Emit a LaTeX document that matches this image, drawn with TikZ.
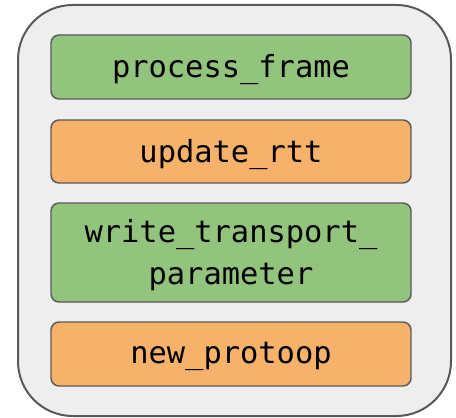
\documentclass[tikz,border=0pt]{standalone}
\usepackage{fontspec}
\setmonofont{DejaVu Sans Mono}
\definecolor{panelbg}{HTML}{EEEEEE}
\definecolor{edgegray}{HTML}{595959}
\definecolor{stepgreen}{HTML}{93C47D}
\definecolor{steporange}{HTML}{F6B26B}
\begin{document}
\begin{tikzpicture}[x=0.75pt,y=-0.75pt,
  panel/.style={draw=edgegray,fill=panelbg,line width=1.5pt,rounded corners=41pt},
  stepbox/.style={draw=edgegray,line width=1.1pt,rounded corners=6pt},
  greenbox/.style={stepbox,fill=stepgreen},
  orangebox/.style={stepbox,fill=steporange},
  label/.style={font=\ttfamily\fontsize{22.8pt}{31pt}\selectfont,align=center,inner sep=0pt,yshift=-2pt}]
\useasboundingbox (0,0) rectangle (456,417);
% outer container
\draw[panel] (18,5) rectangle (451,416);
% stacked steps
\draw[greenbox]  (51,35)  rectangle (411,99)  node[label,pos=0.5] (pf) {process\_frame};
\draw[orangebox] (51,120) rectangle (411,183) node[label,pos=0.5] (ur) {update\_rtt};
\draw[greenbox]  (51,203) rectangle (411,302) node[label,pos=0.5] (wt) {write\_transport\_\\parameter};
\draw[orangebox] (51,322) rectangle (411,386) node[label,pos=0.5] (np) {new\_protoop};
\end{tikzpicture}
\end{document}
